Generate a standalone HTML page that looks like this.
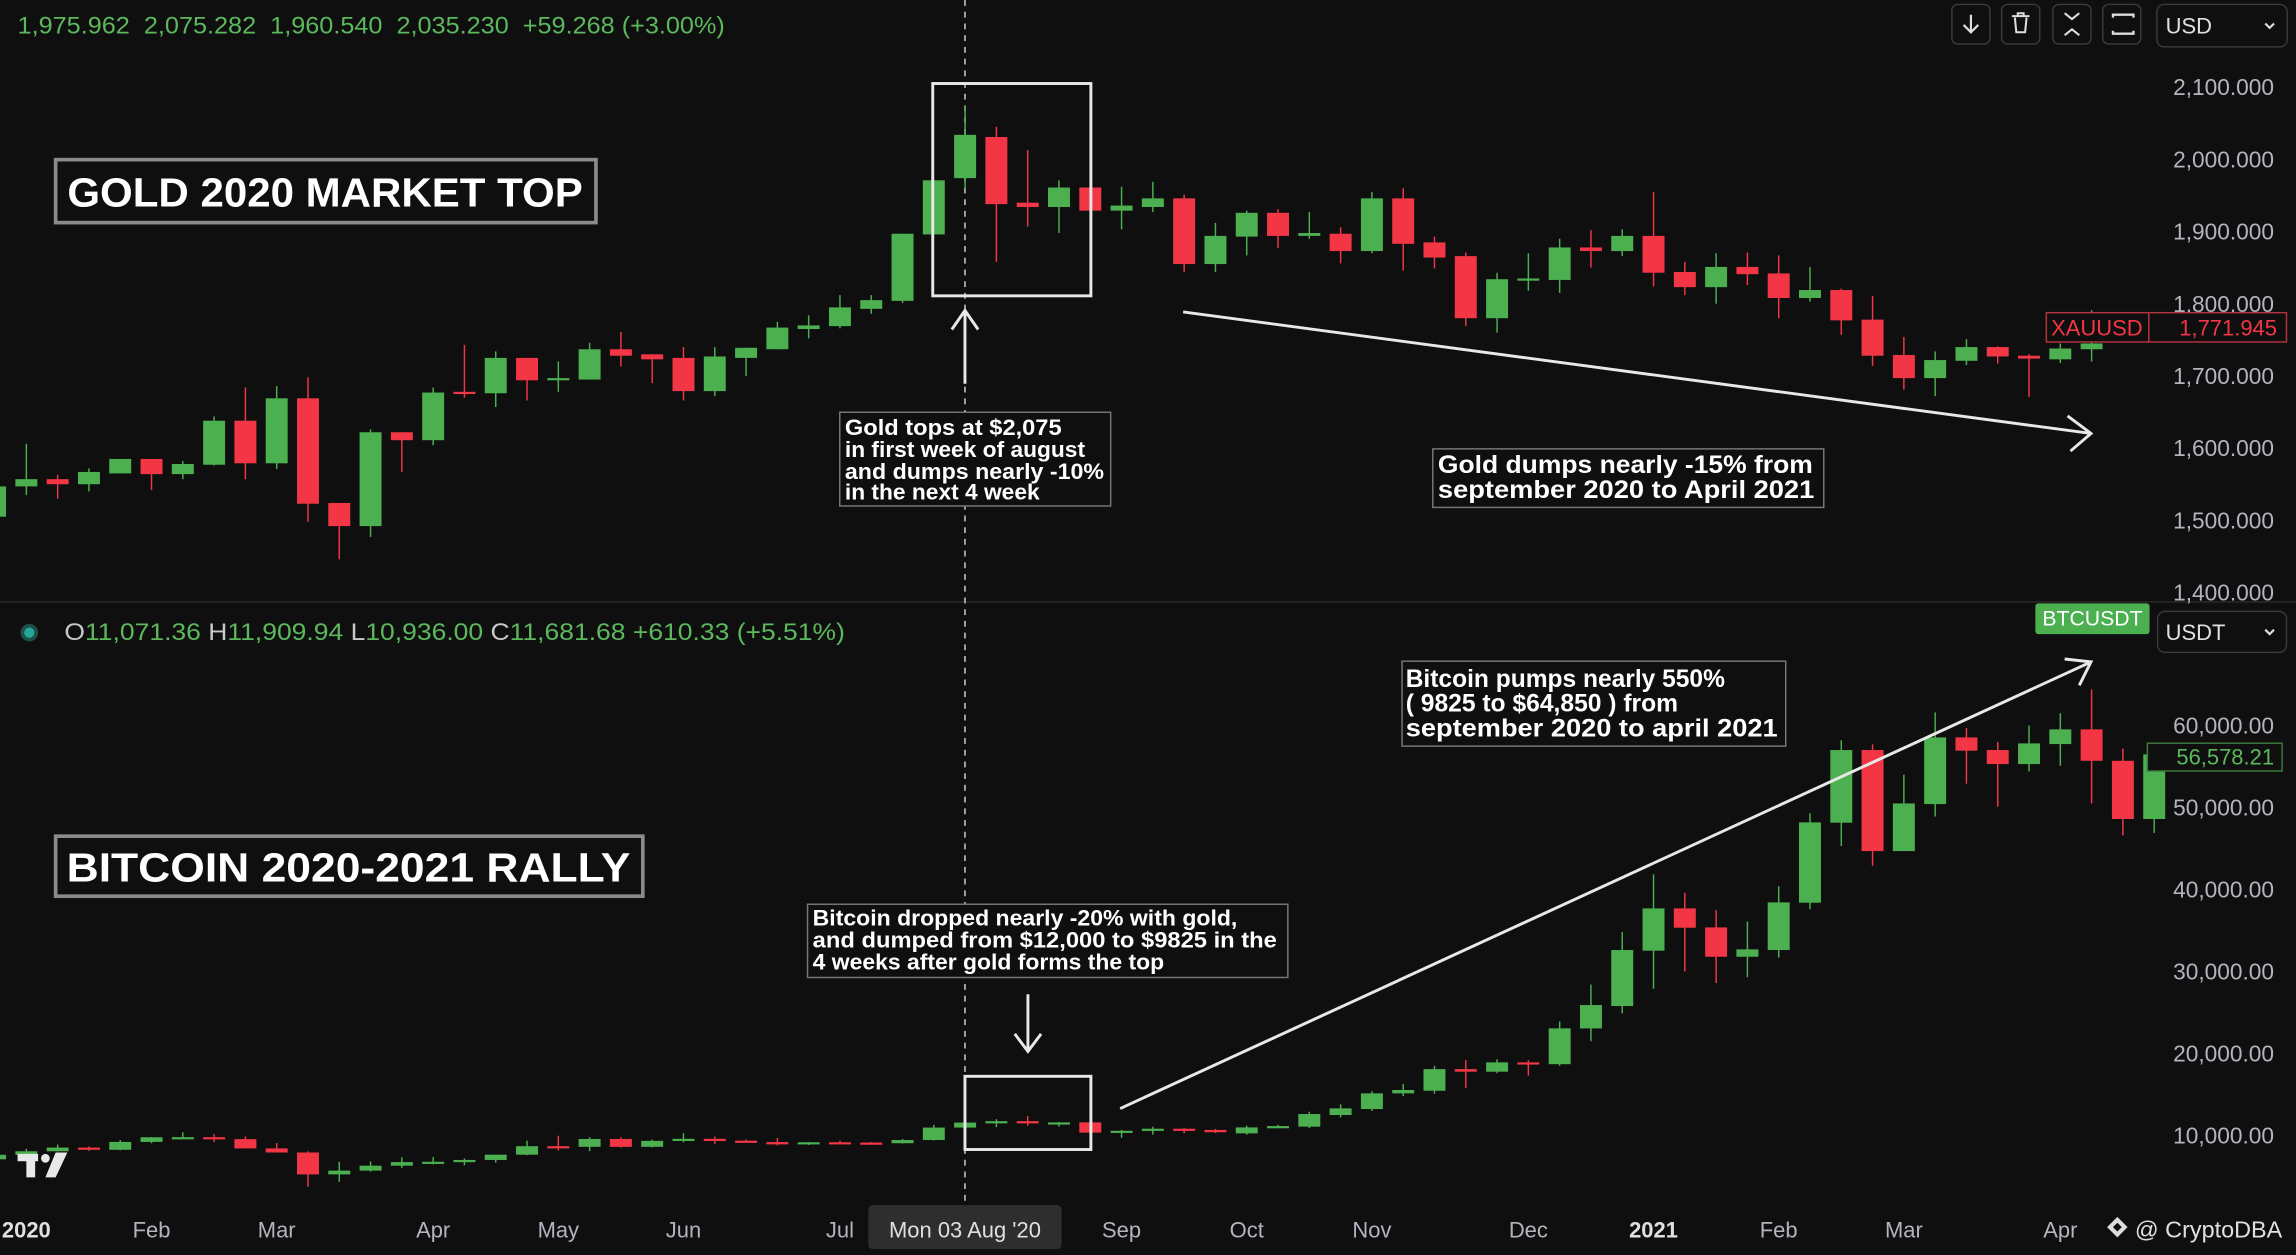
<!DOCTYPE html>
<html><head><meta charset="utf-8">
<style>
html,body{margin:0;padding:0;background:#0f0f0f;}
svg{display:block;}
text{font-family:"Liberation Sans",sans-serif;}
.ann{font-family:"Liberation Sans Narrow","Liberation Sans",sans-serif;font-weight:bold;fill:#fff;}
.ax{fill:#b2b5be;font-size:15.5px;}
</style></head>
<body>
<svg id="chart" width="2296" height="1255" viewBox="0 0 1568 857" xmlns="http://www.w3.org/2000/svg">
<rect x="0" y="0" width="1568" height="857" fill="#0f0f0f"/>
<line x1="0" y1="411" x2="1568" y2="411" stroke="#2a2a2a" stroke-width="1"/>
<line x1="659" y1="0" x2="659" y2="823" stroke="#d0d0d0" stroke-width="1" stroke-dasharray="4,4"/>
<g id="goldCandles"></g>
<g id="btcCandles"></g>
<g id="goldAxis"></g>
<g id="btcAxis"></g>
<g id="timeAxis"></g>

<text x="12" y="23" font-size="16.5" fill="#5cb85c" textLength="483" lengthAdjust="spacingAndGlyphs">1,975.962&#160; 2,075.282&#160; 1,960.540&#160; 2,035.230&#160; +59.268 (+3.00%)</text>

<g fill="none" stroke="#3a3a3a">
<g><rect x="1333" y="3" width="26" height="27" rx="4"/><path d="M1346 10v12M1341 17l5 5 5-5" stroke="#ddd" stroke-width="1.5"/></g>
<g><rect x="1367" y="3" width="26" height="27" rx="4"/><path d="M1374 11h12M1378 11v-2h4v2M1376 12l1 10h6l1-10" stroke="#ddd" stroke-width="1.4"/></g>
<g><rect x="1402" y="3" width="26" height="27" rx="4"/><path d="M1410 9l5 4 5-4M1410 24l5-4 5 4" stroke="#ddd" stroke-width="1.4"/></g>
<g><rect x="1436" y="3" width="26" height="27" rx="4"/><path d="M1443 12v-2h14v2M1443 21v2h14v-2" stroke="#ddd" stroke-width="1.6"/></g>
<g><rect x="1473" y="3" width="89" height="29" rx="5"/><text x="1479" y="23" font-size="15" fill="#e0e0e0" stroke="none">USD</text><path d="M1547 16l3 3 3-3" stroke="#ddd" stroke-width="1.5"/></g>
</g>

<g id="btcCandlesTop"></g>

<g>
<rect x="1397.5" y="213.5" width="70" height="20" fill="#0f0f0f" stroke="#b2323d"/>
<rect x="1467.5" y="213.5" width="94" height="20" fill="#0f0f0f" stroke="#b2323d"/>
<text x="1432" y="229" font-size="15" fill="#f23645" text-anchor="middle">XAUUSD</text>
<text x="1555" y="229" font-size="15" fill="#f23645" text-anchor="end">1,771.945</text>
</g>

<g>
<circle cx="20" cy="432" r="6" fill="#1f4f4a"/><circle cx="20" cy="432" r="3.5" fill="#26a69a"/>
<text x="44" y="437" font-size="16.5" fill="#5cb85c" textLength="533" lengthAdjust="spacingAndGlyphs"><tspan fill="#c8c8c8">O</tspan>11,071.36 <tspan fill="#c8c8c8">H</tspan>11,909.94 <tspan fill="#c8c8c8">L</tspan>10,936.00 <tspan fill="#c8c8c8">C</tspan>11,681.68 +610.33 (+5.51%)</text>
</g>
<g><rect x="1390" y="412" width="78" height="21" rx="2" fill="#4caf50"/><text x="1429" y="427" font-size="14.5" fill="#fff" text-anchor="middle">BTCUSDT</text></g>
<g><rect x="1473.5" y="417.5" width="88" height="28" rx="5" fill="none" stroke="#3a3a3a"/><text x="1479" y="437" font-size="15" fill="#e0e0e0">USDT</text><path d="M1547 430l3 3 3-3" stroke="#ddd" stroke-width="1.5" fill="none"/></g>
<g><rect x="1466.5" y="507.5" width="92" height="19" fill="#0f0f0f" stroke="#3d7a3d"/><text x="1553" y="522" font-size="15" fill="#5cb85c" text-anchor="end">56,578.21</text></g>

<g><rect x="38" y="109" width="369" height="43" fill="#0f0f0f" stroke="#8a8a8a" stroke-width="2.5"/><text class="ann" x="222" y="141" font-size="28" text-anchor="middle" textLength="352" lengthAdjust="spacingAndGlyphs">GOLD 2020 MARKET TOP</text></g>
<g><rect x="38" y="571" width="401" height="41" fill="#0f0f0f" stroke="#8a8a8a" stroke-width="2.5"/><text class="ann" x="238" y="602" font-size="28" text-anchor="middle" textLength="385" lengthAdjust="spacingAndGlyphs">BITCOIN 2020-2021 RALLY</text></g>

<rect x="637" y="57" width="108" height="145" fill="none" stroke="#e8e8e8" stroke-width="2"/>
<g stroke="#e8e8e8" stroke-width="2" fill="none"><path d="M659 262V212M650 225l9-13 9 13"/></g>
<g><rect x="573.5" y="281.5" width="185" height="64" fill="#0f0f0f" stroke="#777"/>
<text class="ann" font-size="15"><tspan x="577" y="297" textLength="148" lengthAdjust="spacingAndGlyphs">Gold tops at $2,075</tspan><tspan x="577" y="312" textLength="164" lengthAdjust="spacingAndGlyphs">in first week of august</tspan><tspan x="577" y="327" textLength="177" lengthAdjust="spacingAndGlyphs">and dumps nearly -10%</tspan><tspan x="577" y="341" textLength="133" lengthAdjust="spacingAndGlyphs">in the next 4 week</tspan></text></g>
<g stroke="#e8e8e8" stroke-width="2" fill="none"><path d="M808 213L1428 296M1412 284l16 12-14 12"/></g>
<g><rect x="978.5" y="306.5" width="267" height="40" fill="#0f0f0f" stroke="#777"/>
<text class="ann" font-size="17"><tspan x="982" y="323" textLength="256" lengthAdjust="spacingAndGlyphs">Gold dumps nearly -15% from</tspan><tspan x="982" y="340" textLength="257" lengthAdjust="spacingAndGlyphs">september 2020 to April 2021</tspan></text></g>

<g><rect x="957.5" y="451.5" width="262" height="58" fill="#0f0f0f" stroke="#777"/>
<text class="ann" font-size="17"><tspan x="960" y="469" textLength="218" lengthAdjust="spacingAndGlyphs">Bitcoin pumps nearly 550%</tspan><tspan x="960" y="486" textLength="186" lengthAdjust="spacingAndGlyphs">( 9825 to $64,850 ) from</tspan><tspan x="960" y="503" textLength="254" lengthAdjust="spacingAndGlyphs">september 2020 to april 2021</tspan></text></g>
<g stroke="#e8e8e8" stroke-width="2" fill="none"><path d="M765 757L1428 452M1410 450l18 2-8 16"/></g>
<g><rect x="551.5" y="617.5" width="328" height="50" fill="#0f0f0f" stroke="#777"/>
<text class="ann" font-size="15"><tspan x="555" y="632" textLength="290" lengthAdjust="spacingAndGlyphs">Bitcoin dropped nearly -20% with gold,</tspan><tspan x="555" y="647" textLength="317" lengthAdjust="spacingAndGlyphs">and dumped from $12,000 to $9825 in the</tspan><tspan x="555" y="662" textLength="240" lengthAdjust="spacingAndGlyphs">4 weeks after gold forms the top</tspan></text></g>
<g stroke="#e8e8e8" stroke-width="2" fill="none"><path d="M702 679V718M693 706l9 12 9-12"/></g>
<rect x="659" y="735" width="86" height="50" fill="none" stroke="#e8e8e8" stroke-width="2"/>

<g fill="#e8e8e8"><rect x="12" y="788" width="14" height="5"/><rect x="18" y="788" width="6" height="16"/><circle cx="31" cy="791" r="3"/><path d="M38 787h8l-8 17h-7z"/></g>
<g><path d="M1446 831l7 7-7 7-7-7z M1446 835l3 3-3 3-3-3z" fill="#ddd" fill-rule="evenodd"/><text x="1458" y="845" font-size="16" fill="#e0e0e0">@ CryptoDBA</text></g>
</svg>
<script>
var goldO=[1506,1548,1558,1551,1566,1586,1565,1578,1639,1580,1670,1525,1493,1623,1612,1679,1677,1726,1696,1696,1738,1731,1726,1680,1726,1738,1766,1770,1794,1805,1897,1975,2032,1941,1935,1962,1930,1935,1947,1856,1894,1927,1895,1898,1874,1947,1886,1867,1781,1835,1834,1879,1874,1895,1845,1824,1852,1843,1809,1820,1779,1730,1698,1722,1741,1729,1724,1738];
var goldC=[1548,1558,1551,1568,1586,1565,1579,1639,1580,1670,1524,1493,1623,1612,1678,1677,1726,1695,1698,1738,1729,1724,1680,1728,1740,1768,1771,1796,1806,1898,1972,2035,1939,1935,1962,1930,1937,1947,1856,1895,1927,1895,1899,1874,1947,1884,1865,1781,1835,1836,1879,1874,1895,1844,1824,1852,1842,1809,1820,1778,1729,1698,1723,1741,1728,1725,1739,1746];
var goldH=[1552,1607,1564,1573,1586,1586,1583,1645,1685,1687,1699,1525,1627,1623,1685,1744,1735,1726,1721,1747,1762,1731,1741,1741,1740,1776,1785,1813,1813,1898,1972,2075,2046,2014,1972,1990,1963,1970,1952,1913,1930,1932,1928,1907,1956,1961,1894,1872,1844,1871,1891,1903,1904,1956,1859,1871,1872,1868,1852,1822,1812,1755,1735,1752,1742,1731,1746,1792];
var goldL=[1500,1536,1531,1541,1566,1543,1558,1577,1558,1572,1499,1447,1478,1568,1605,1671,1658,1667,1679,1696,1714,1691,1667,1673,1701,1738,1753,1767,1787,1802,1897,1960,1859,1908,1899,1912,1904,1928,1845,1845,1868,1878,1891,1857,1871,1847,1850,1770,1761,1819,1816,1851,1867,1825,1813,1801,1827,1781,1804,1758,1715,1682,1673,1716,1718,1672,1719,1721];
var btcO=[7200,7750,8180,8630,8360,9320,9890,9900,9660,8530,8030,5360,5820,6420,6860,6900,7120,7760,8800,8720,9680,8720,9450,9700,9470,9300,9020,9280,9240,9160,9550,11070,11680,11850,11650,11700,10450,10680,10930,10780,10360,11100,11180,12600,13330,15240,15560,18200,17880,19020,18800,23160,25890,32640,37800,35480,31900,32720,38490,48250,57110,44790,50520,58650,57110,55400,57840,59630,55800,48700];
var btcC=[7750,8180,8630,8360,9320,9890,9900,9660,8530,8030,5360,5820,6420,6860,6900,7120,7760,8800,8720,9680,8720,9450,9700,9470,9300,9020,9280,9240,9160,9550,11070,11680,11850,11650,11700,10450,10680,10930,10780,10500,11090,11250,12720,13410,15240,15650,18200,17880,19020,18800,23170,26010,32720,37800,35440,31900,32800,38530,48290,57110,44790,50600,58650,57030,55400,57920,59630,55800,48700,56578];
var btcH=[7900,8470,9000,8760,9550,9900,10500,10250,9990,9180,8180,6900,6950,7450,7470,7300,7780,9470,10070,9900,9880,9600,10380,9970,9620,9800,9300,9470,9300,9680,11400,11910,12090,12470,11750,12090,10800,11170,11000,10900,11300,11400,13000,13900,15500,16400,18600,19300,19400,19300,24000,28500,34900,41950,39700,37600,36200,40500,49400,58300,57800,54100,61700,59800,58100,60100,61600,64500,57300,58000];
var btcL=[6900,7700,8150,8240,8300,9150,9700,9300,8500,8200,3850,4450,5700,6150,6580,6470,6800,7700,8270,8200,8640,8640,9280,9080,9200,8900,8950,9060,9050,9120,9500,10940,11120,11300,11200,9880,9825,10200,10370,10400,10200,11000,11000,12300,13100,14900,15200,15900,17700,17400,18600,21600,25000,28000,30100,28700,29400,31800,37700,45400,43000,44800,49000,53000,50200,54500,55200,50600,46700,47000];
var goldTicks=[2100,2000,1900,1800,1700,1600,1500,1400];
var goldTickLabels=["2,100.000","2,000.000","1,900.000","1,800.000","1,700.000","1,600.000","1,500.000","1,400.000"];
var btcTicks=[60000,50000,40000,30000,20000,10000];
var btcTickLabels=["60,000.00","50,000.00","40,000.00","30,000.00","20,000.00","10,000.00"];
var monthLabels=["2020","Feb","Mar","Apr","May","Jun","Jul","Sep","Oct","Nov","Dec","2021","Feb","Mar","Apr"];
var monthIndex=[0,4,8,13,17,21,26,35,39,43,48,52,56,60,65];

var NS="http://www.w3.org/2000/svg";
var START=-1;
function xPos(i){return 18+21.37*(i+START);}
function goldY(p){return 60+(2100-p)*0.493;}
function btcY(p){return 776-(p-10000)*0.0056;}
function mk(tag,attrs,parent){var e=document.createElementNS(NS,tag);for(var k in attrs)e.setAttribute(k,attrs[k]);parent.appendChild(e);return e;}
function drawCandles(gId,O,C,H,L,yf,name){
  var g=document.getElementById(gId);
  for(var i=0;i<O.length;i++){
    var x=xPos(i),up=C[i]>=O[i],col=up?"#4caf50":"#f23645";
    var cg=mk("g",{},g);
    
    
    mk("line",{x1:x,x2:x,y1:yf(H[i]),y2:yf(L[i]),stroke:col,"stroke-width":1},cg);
    var t=yf(Math.max(O[i],C[i])),b=yf(Math.min(O[i],C[i]));
    mk("rect",{x:x-7.5,y:t,width:15,height:Math.max(1.5,b-t),fill:col},cg);
  }
}
drawCandles("goldCandles",goldO,goldC,goldH,goldL,goldY,"gold");
drawCandles("btcCandles",btcO,btcC,btcH,btcL,btcY,"bitcoin");
var ga=document.getElementById("goldAxis");
for(var i=0;i<goldTicks.length;i++){
  var t=mk("text",{x:1553,y:goldY(goldTicks[i])+5,"text-anchor":"end","class":"ax"},ga);
  t.textContent=goldTickLabels[i];
  
  
}
var ba=document.getElementById("btcAxis");
for(var i=0;i<btcTicks.length;i++){
  var t=mk("text",{x:1553,y:btcY(btcTicks[i])+5,"text-anchor":"end","class":"ax"},ba);
  t.textContent=btcTickLabels[i];
  
  
}
var ta=document.getElementById("timeAxis");
for(var i=0;i<monthLabels.length;i++){
  var bold=/^20/.test(monthLabels[i]);
  var t=mk("text",{x:xPos(monthIndex[i]+1),y:845,"text-anchor":"middle","font-size":15,fill:bold?"#e0e0e0":"#b2b5be","font-weight":bold?"bold":"normal"},ta);
  t.textContent=monthLabels[i];
  
  
}
var cl=mk("g",{},ta);


mk("rect",{x:593,y:823,width:132,height:30,rx:3,fill:"#2e2e2e"},cl);
var ct=mk("text",{x:659,y:845,"text-anchor":"middle","font-size":15,fill:"#e0e0e0"},cl);
ct.textContent="Mon 03 Aug '20";
</script>
</body></html>
